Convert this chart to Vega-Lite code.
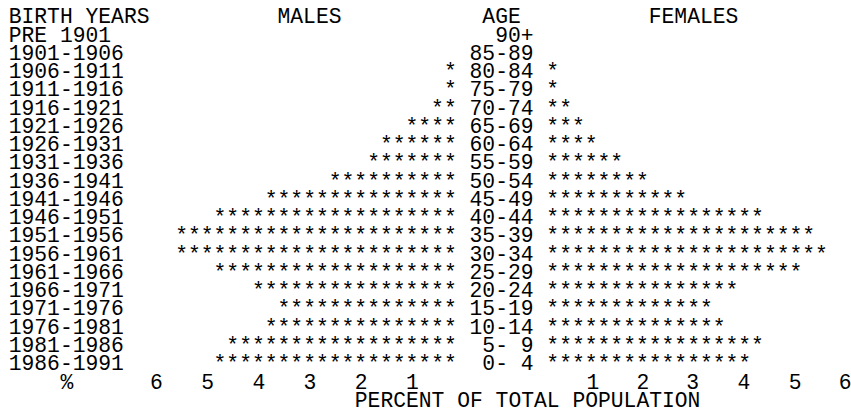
{
  "$schema": "https://vega.github.io/schema/vega-lite/v6.json",
  "width": 851,
  "height": 388.5,
  "autosize": {"type": "pad"},
  "padding": {"left": 0, "top": 0, "right": 0, "bottom": 4},
  "background": "white",
  "config": {
    "view": {"stroke": null},
    "text": {"font": "Liberation Mono", "fontSize": 21.33, "color": "black", "baseline": "alphabetic"},
    "axis": {
      "domain": false,
      "ticks": false,
      "tickSize": 0,
      "grid": false,
      "labelPadding": 0,
      "labelFont": "Liberation Mono",
      "labelFontSize": 21.33,
      "labelColor": "black",
      "titleFont": "Liberation Mono",
      "titleFontSize": 21.33,
      "titleFontWeight": "normal",
      "titleColor": "black"
    }
  },
  "data": {
    "values": [
      {"birth": "PRE 1901", "age": "90+", "male_stars": 0, "female_stars": 0},
      {"birth": "1901-1906", "age": "85-89", "male_stars": 0, "female_stars": 0},
      {"birth": "1906-1911", "age": "80-84", "male_stars": 1, "female_stars": 1},
      {"birth": "1911-1916", "age": "75-79", "male_stars": 1, "female_stars": 1},
      {"birth": "1916-1921", "age": "70-74", "male_stars": 2, "female_stars": 2},
      {"birth": "1921-1926", "age": "65-69", "male_stars": 4, "female_stars": 3},
      {"birth": "1926-1931", "age": "60-64", "male_stars": 6, "female_stars": 4},
      {"birth": "1931-1936", "age": "55-59", "male_stars": 7, "female_stars": 6},
      {"birth": "1936-1941", "age": "50-54", "male_stars": 10, "female_stars": 8},
      {"birth": "1941-1946", "age": "45-49", "male_stars": 15, "female_stars": 11},
      {"birth": "1946-1951", "age": "40-44", "male_stars": 19, "female_stars": 17},
      {"birth": "1951-1956", "age": "35-39", "male_stars": 22, "female_stars": 21},
      {"birth": "1956-1961", "age": "30-34", "male_stars": 22, "female_stars": 22},
      {"birth": "1961-1966", "age": "25-29", "male_stars": 19, "female_stars": 20},
      {"birth": "1966-1971", "age": "20-24", "male_stars": 16, "female_stars": 15},
      {"birth": "1971-1976", "age": "15-19", "male_stars": 14, "female_stars": 13},
      {"birth": "1976-1981", "age": "10-14", "male_stars": 15, "female_stars": 14},
      {"birth": "1981-1986", "age": "5- 9", "male_stars": 18, "female_stars": 17},
      {"birth": "1986-1991", "age": "0- 4", "male_stars": 19, "female_stars": 16}
    ]
  },
  "transform": [
    {"calculate": "pad('', datum.male_stars, '*')", "as": "mstars"},
    {"calculate": "pad('', datum.female_stars, '*')", "as": "fstars"},
    {"calculate": "datum.age === '90+' ? '90+\u00a0' : datum.age", "as": "age_txt"}
  ],
  "encoding": {
    "y": {
      "field": "age",
      "type": "ordinal",
      "scale": {
        "type": "point",
        "domain": ["AGE", "90+", "85-89", "80-84", "75-79", "70-74", "65-69", "60-64", "55-59", "50-54", "45-49", "40-44", "35-39", "30-34", "25-29", "20-24", "15-19", "10-14", "5- 9", "0- 4"],
        "range": [23.3, 370.24],
        "padding": 0
      },
      "axis": null
    }
  },
  "layer": [
    {
      "mark": {"type": "text", "align": "left"},
      "encoding": {
        "x": {
          "datum": 0,
          "type": "quantitative",
          "scale": {"domain": [-0.68, 65.8], "nice": false, "zero": false},
          "axis": {
            "orient": "bottom",
            "values": [4.5, 11.5, 15.5, 19.5, 23.5, 27.5, 31.5, 45.6, 49.5, 53.4, 57.4, 61.4, 65.3],
            "labelExpr": "datum.value < 5 ? '%' : (datum.value < 35 ? '' + round((35.5 - datum.value) / 4) : '' + round((datum.value - 41.5) / 4))",
            "labelBaseline": "alphabetic",
            "labelAlign": "center",
            "labelFlush": false,
            "labelOverlap": false,
            "labelBound": false,
            "title": "PERCENT OF TOTAL POPULATION",
            "titleX": 354.3,
            "titleY": 18.26,
            "titleAlign": "left",
            "titleAnchor": "start",
            "titleBaseline": "alphabetic"
          }
        },
        "text": {"field": "birth"}
      }
    },
    {
      "mark": {"type": "text", "align": "right"},
      "encoding": {
        "x": {"datum": 35, "type": "quantitative"},
        "text": {"field": "mstars"}
      }
    },
    {
      "mark": {"type": "text", "align": "right"},
      "encoding": {
        "x": {"datum": 41, "type": "quantitative"},
        "text": {"field": "age_txt"}
      }
    },
    {
      "mark": {"type": "text", "align": "left"},
      "encoding": {
        "x": {"datum": 42, "type": "quantitative"},
        "text": {"field": "fstars"}
      }
    },
    {
      "data": {"values": [{}]},
      "mark": {"type": "text", "align": "left"},
      "encoding": {
        "x": {"datum": 0, "type": "quantitative"},
        "y": {"datum": "AGE", "type": "ordinal"},
        "text": {"value": "BIRTH YEARS"}
      }
    },
    {
      "data": {"values": [{}]},
      "mark": {"type": "text", "align": "left"},
      "encoding": {
        "x": {"datum": 21, "type": "quantitative"},
        "y": {"datum": "AGE", "type": "ordinal"},
        "text": {"value": "MALES"}
      }
    },
    {
      "data": {"values": [{}]},
      "mark": {"type": "text", "align": "left"},
      "encoding": {
        "x": {"datum": 37, "type": "quantitative"},
        "y": {"datum": "AGE", "type": "ordinal"},
        "text": {"value": "AGE"}
      }
    },
    {
      "data": {"values": [{}]},
      "mark": {"type": "text", "align": "left"},
      "encoding": {
        "x": {"datum": 50, "type": "quantitative"},
        "y": {"datum": "AGE", "type": "ordinal"},
        "text": {"value": "FEMALES"}
      }
    }
  ]
}
